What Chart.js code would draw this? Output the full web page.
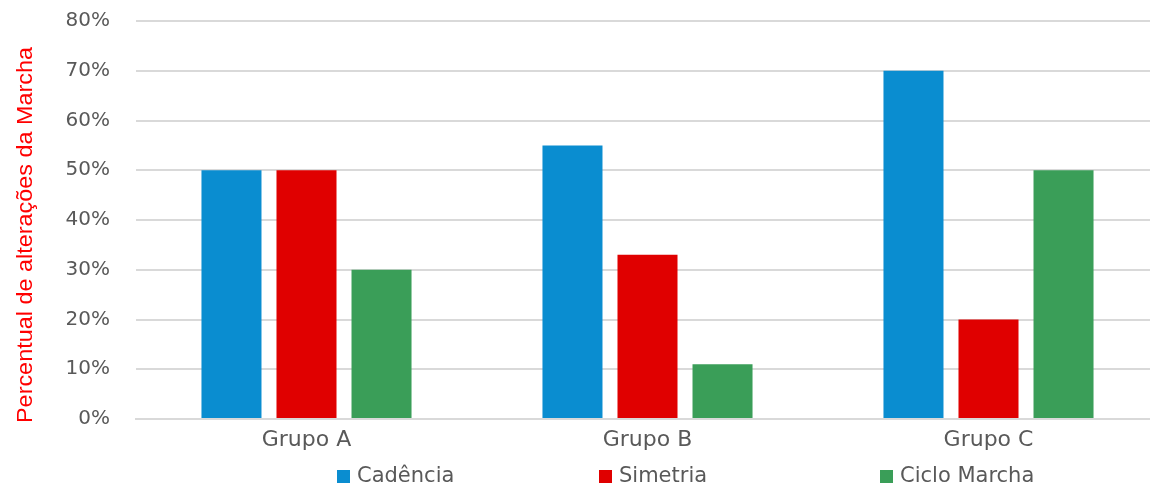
<!DOCTYPE html>
<html>
<head>
<meta charset="utf-8">
<script src="https://cdn.jsdelivr.net/npm/chart.js@4"></script>
<style>
  html, body { margin: 0; padding: 0; background: #fff; overflow: hidden; }
  #wrap { width: 1160px; height: 491px; position: relative; }
</style>
</head>
<body>
<div id="wrap"><canvas id="gaitChart"></canvas></div>
<script>
const groups = ['Grupo A', 'Grupo B', 'Grupo C'];
const cadencia = [50, 55, 70];
const simetria = [50, 33, 20];
const cicloMarcha = [30, 11, 50];
const yTicks = [0, 10, 20, 30, 40, 50, 60, 70, 80];
const axisTitle = 'Percentual de alterações da Marcha';

const tickColor = '#595959';
const gridColor = '#d9d9d9';
const font = 'DejaVu Sans';

const makeSet = (label, data, color) => ({
  label,
  data,
  backgroundColor: color,
  borderWidth: 0,
  categoryPercentage: 0.66,
  barPercentage: 0.8
});

// legend drawn by hand so the three items sit where the original has them
const legendStarts = [337, 599, 880];
const spreadLegend = {
  id: 'spreadLegend',
  afterDraw: (chart) => {
    const ctx = chart.ctx;
    ctx.save();
    ctx.font = '21px "' + font + '"';
    ctx.textBaseline = 'middle';
    ctx.textAlign = 'left';
    chart.data.datasets.forEach((ds, i) => {
      const x = legendStarts[i];
      ctx.fillStyle = ds.backgroundColor;
      ctx.fillRect(x, 470, 13, 13);
      ctx.fillStyle = tickColor;
      ctx.fillText(ds.label, x + 20, 477);
    });
    ctx.restore();
  }
};

// y title squeezed to the length it has in the original
const sideTitle = {
  id: 'sideTitle',
  afterDraw: (chart) => {
    const ctx = chart.ctx;
    ctx.save();
    ctx.font = '22px "Liberation Sans"';
    const w = ctx.measureText(axisTitle).width;
    ctx.translate(26, 235);
    ctx.rotate(-Math.PI / 2);
    ctx.scale(376 / w, 1);
    ctx.fillStyle = '#ff0000';
    ctx.textAlign = 'center';
    ctx.textBaseline = 'middle';
    ctx.fillText(axisTitle, 0, 0);
    ctx.restore();
  }
};

new Chart(document.getElementById('gaitChart'), {
  type: 'bar',
  data: {
    labels: groups,
    datasets: [
      makeSet('Cadência', cadencia, '#0a8dd0'),
      makeSet('Simetria', simetria, '#e00000'),
      makeSet('Ciclo Marcha', cicloMarcha, '#3a9e58')
    ]
  },
  options: {
    responsive: true,
    maintainAspectRatio: false,
    animation: false,
    layout: { padding: { left: 0, right: 1, top: 21, bottom: 0 } },
    scales: {
      x: {
        afterFit: (axis) => { axis.height = 72; },
        grid: { display: false, drawTicks: false },
        border: { color: gridColor, width: 2 },
        ticks: { color: tickColor, font: { family: font, size: 22 }, padding: 8 }
      },
      y: {
        min: 0,
        max: 80,
        afterBuildTicks: (axis) => {
          axis.ticks = yTicks.map((value) => ({ value }));
        },
        afterFit: (axis) => {
          axis.width = 136;
          // tick padding would otherwise push the plot top down
          axis.paddingTop = 0;
          axis.paddingBottom = 0;
        },
        grid: { color: gridColor, lineWidth: 2, drawTicks: false },
        border: { display: false },
        ticks: {
          color: tickColor,
          font: { family: font, size: 20 },
          padding: 26,
          callback: (v) => v + '%'
        }
      }
    },
    plugins: {
      legend: { display: false },
      tooltip: { enabled: false }
    }
  },
  plugins: [spreadLegend, sideTitle]
});
</script>
</body>
</html>
